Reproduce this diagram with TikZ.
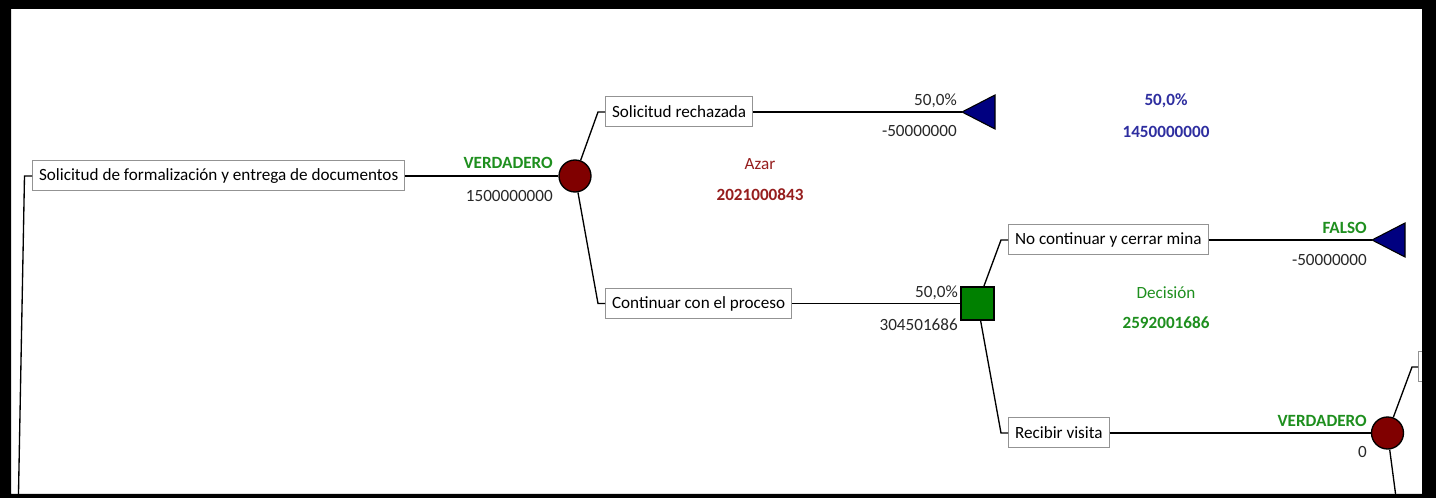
\documentclass[tikz,border=0pt]{standalone}
\usepackage{fontspec}
\setmainfont{Carlito}
\usepackage{xcolor}
\usepackage{tikz}
\usetikzlibrary{positioning,calc,shapes.geometric}
\definecolor{azarred}{RGB}{128,0,0}
\definecolor{decgreen}{RGB}{0,128,0}
\definecolor{finnavy}{RGB}{0,0,128}
\definecolor{txtgreen}{RGB}{30,143,30}
\definecolor{txtred}{RGB}{150,30,30}
\definecolor{txtblue}{RGB}{46,46,160}
\definecolor{txtgray}{RGB}{40,40,40}
\newcommand{\arbolfont}{\fontsize{12.85}{15}\selectfont}
\tikzset{
    rama/.style={
        rectangle,
        draw=gray!85,
        line width=0.75pt,
        fill=white,
        anchor=west,
        inner xsep=4.9pt,
        inner ysep=0pt,
        minimum height=22.5pt,
        text=black
    },
    azar/.style={circle, draw, line width=1pt, fill=azarred, minimum size=24pt, inner sep=0pt},
    decision/.style={rectangle, draw, line width=1pt, fill=decgreen, minimum size=24.75pt, inner sep=0pt},
    fin/.style={draw, line width=0.8pt, fill=finnavy},
    linea/.style={line width=1pt},
    valor/.style={anchor=base east, inner sep=0pt, text=txtgray},
    verde/.style={anchor=base east, inner sep=0pt, text=txtgreen, font=\arbolfont\bfseries},
    etiq/.style={anchor=base, inner sep=0pt},
    negrita/.style={font=\arbolfont\bfseries}
}
\begin{document}
\begin{tikzpicture}[x=0.75pt,y=-0.75pt,font=\arbolfont]
    \useasboundingbox (0,0) rectangle (1436,498);
    \fill[white] (0,0) rectangle (1436,498);

    % Nodos del arbol
    \node[rama] (raiz) at (32,176) {Solicitud de formalización y entrega de documentos};
    \node[azar] (c1) at (575,176) {};
    \node[rama] (rech) at (605,112) {Solicitud rechazada};
    \node[rama] (cont) at (605,303.5) {Continuar con el proceso};
    \node[decision] (d1) at (977.5,303.5) {};
    \node[rama] (nocont) at (1008,240) {No continuar y cerrar mina};
    \node[rama] (visita) at (1008,433) {Recibir visita};
    \node[azar] (c2) at (1387.5,433) {};
    \node[rama, minimum width=60pt] (sig) at (1418,367) {}; % cortado por el marco

    % Nodos terminales (triangulos)
    \coordinate (t1) at (962,112);
    \coordinate (t2) at (1372,240);
    \filldraw[fin] (t1) -- ++(33,-17) -- ++(0,34) -- cycle;
    \filldraw[fin] (t2) -- ++(33,-17) -- ++(0,34) -- cycle;

    % Extremos fuera del marco
    \coordinate (padre) at (18,520);
    \coordinate (abajo) at (1399,520);

    % Ramas
    \draw[linea] (padre) -- (24.5,176) -- (raiz.west);
    \draw[linea] (raiz.east) -- (c1);
    \draw[linea] (c1) -- ($(rech.west)+(-7,0)$) -- (rech.west);
    \draw[linea] (c1) -- ($(cont.west)+(-7,0)$) -- (cont.west);
    \draw[linea] (rech.east) -- (t1);
    \draw[linea] (cont.east) -- (d1);
    \draw[linea] (d1) -- ($(nocont.west)+(-7,0)$) -- (nocont.west);
    \draw[linea] (d1) -- ($(visita.west)+(-7,0)$) -- (visita.west);
    \draw[linea] (nocont.east) -- (t2);
    \draw[linea] (visita.east) -- (c2);
    \draw[linea] (c2) -- ($(sig.west)+(-6,0)$) -- (sig.west);
    \draw[linea] (c2) -- (abajo);

    % Valores de las ramas
    \node[verde] (v1) at (553,168.5) {VERDADERO};
    \node[valor] (n1) at (553,201.5) {1500000000};
    \node[valor] (p1) at (957,105.5) {50,0\%};
    \node[valor] (n2) at (957,136.5) {-50000000};
    \node[valor] (p2) at (958,297.5) {50,0\%};
    \node[valor] (n3) at (958,330.5) {304501686};
    \node[verde] (f1) at (1367,233.5) {FALSO};
    \node[valor] (n4) at (1367,265.5) {-50000000};
    \node[verde] (v2) at (1367,426.5) {VERDADERO};
    \node[valor] (n5) at (1367,457.5) {0};

    % Etiquetas de los nodos
    \node[etiq, text=txtred] (azlab) at (760,170) {Azar};
    \node[etiq, negrita, text=txtred] (azval) at (760,201) {2021000843};
    \node[etiq, negrita, text=txtblue] (fpct) at (1166,105.5) {50,0\%};
    \node[etiq, negrita, text=txtblue] (fval) at (1166,137.5) {1450000000};
    \node[etiq, text=txtgreen] (declab) at (1166,298.5) {Decisión};
    \node[etiq, negrita, text=txtgreen] (decval) at (1166,329) {2592001686};

    % Marco negro
    \fill[black, even odd rule] (0,0) rectangle (1436,498) (11,9) rectangle (1422,494);
\end{tikzpicture}
\end{document}
